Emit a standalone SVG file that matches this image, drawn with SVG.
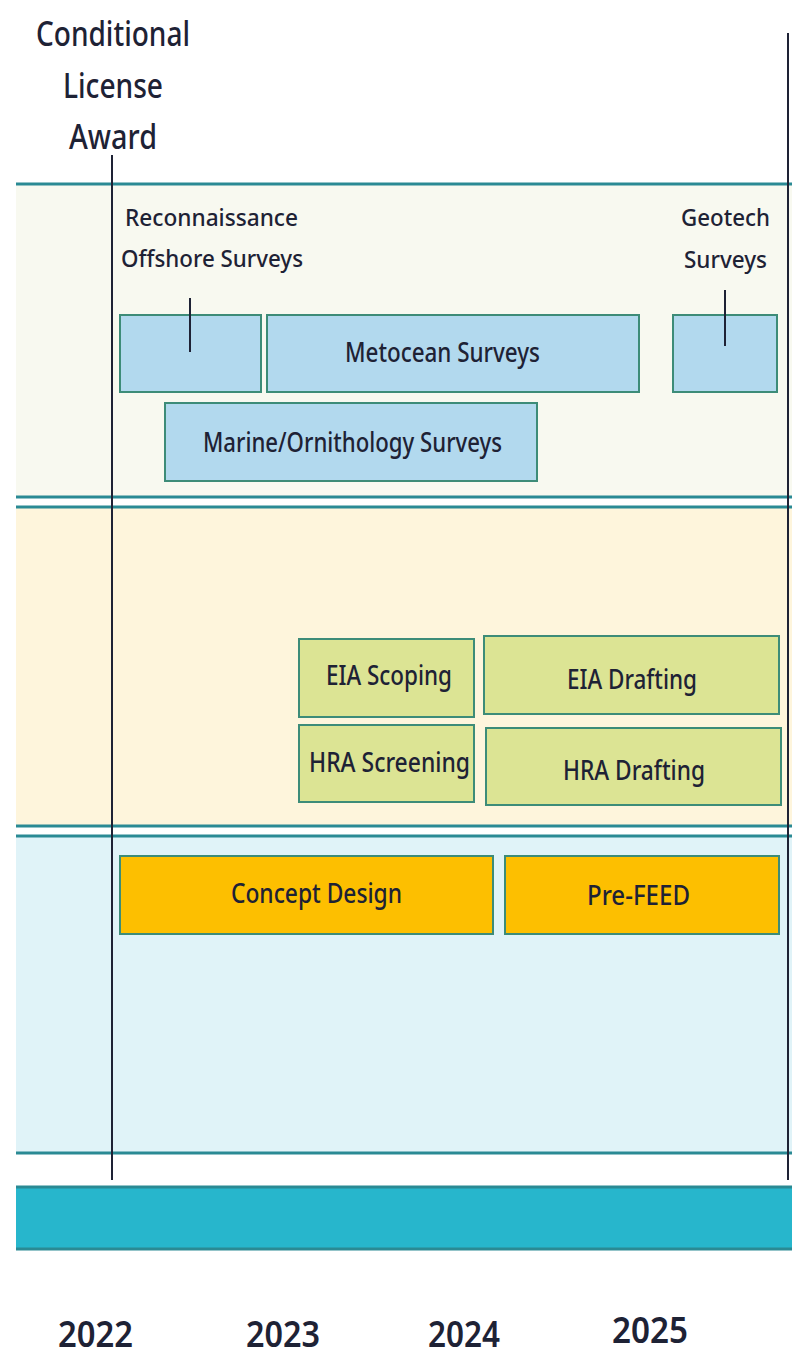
<svg xmlns="http://www.w3.org/2000/svg" width="792" height="1358" viewBox="0 0 792 1358">
<style>
text{font-family:"Noto Sans","Open Sans",sans-serif;fill:#1e2235;text-anchor:start;font-weight:500}
.b{stroke:#3d8c78;stroke-width:2}
.blue{fill:#b2d9ee}
.grn{fill:#dce494}
.org{fill:#fdbf00}
.bl{stroke:#2a8a94;stroke-width:3;fill:none}
.v{stroke:#1e2235;stroke-width:2;fill:none}
.t{font-size:27px}
.h{font-size:24px}
.big{font-size:35px}
.yr{font-size:36px;font-weight:600}
</style>
<rect width="792" height="1358" fill="#ffffff"/>
<g id="bands">
<rect x="16" y="184" width="776" height="313" fill="#f8f9f0"/>
<rect x="16" y="507" width="776" height="319" fill="#fef5dc"/>
<rect x="16" y="836" width="776" height="317" fill="#e0f3f8"/>
<rect x="16" y="1187" width="776" height="62" fill="#27b6cc"/>
<line class="bl" x1="16" y1="184" x2="792" y2="184"/>
<line class="bl" x1="16" y1="497" x2="792" y2="497"/>
<line class="bl" x1="16" y1="507" x2="792" y2="507"/>
<line class="bl" x1="16" y1="826" x2="792" y2="826"/>
<line class="bl" x1="16" y1="836" x2="792" y2="836"/>
<line class="bl" x1="16" y1="1153" x2="792" y2="1153"/>
<line class="bl" x1="16" y1="1187" x2="792" y2="1187"/>
<line class="bl" x1="16" y1="1249" x2="792" y2="1249"/>
</g>
<g id="award">
<text class="big" x="36" y="46" textLength="154" lengthAdjust="spacingAndGlyphs">Conditional</text>
<text class="big" x="63" y="98" textLength="100" lengthAdjust="spacingAndGlyphs">License</text>
<text class="big" x="69" y="149" textLength="88" lengthAdjust="spacingAndGlyphs">Award</text>
</g>
<g id="recon">
<text class="h" x="125" y="226" textLength="173" lengthAdjust="spacingAndGlyphs">Reconnaissance</text>
<text class="h" x="121" y="267" textLength="182" lengthAdjust="spacingAndGlyphs">Offshore Surveys</text>
<rect class="b blue" x="120" y="315" width="141" height="77"/>
</g>
<g id="metocean">
<rect class="b blue" x="267" y="315" width="372" height="77"/>
<text class="t" x="345" y="362" textLength="195" lengthAdjust="spacingAndGlyphs">Metocean Surveys</text>
</g>
<g id="geotech">
<text class="h" x="681" y="226" textLength="89" lengthAdjust="spacingAndGlyphs">Geotech</text>
<text class="h" x="684" y="268" textLength="83" lengthAdjust="spacingAndGlyphs">Surveys</text>
<rect class="b blue" x="673" y="315" width="104" height="77"/>
</g>
<g id="marine">
<rect class="b blue" x="165" y="403" width="372" height="78"/>
<text class="t" x="203" y="452" textLength="299" lengthAdjust="spacingAndGlyphs">Marine/Ornithology Surveys</text>
</g>
<g id="eia-scoping">
<rect class="b grn" x="299" y="639" width="175" height="78"/>
<text class="t" x="326" y="685" textLength="126" lengthAdjust="spacingAndGlyphs">EIA Scoping</text>
</g>
<g id="hra-screening">
<rect class="b grn" x="299" y="725" width="175" height="77"/>
<text class="t" x="309" y="772" textLength="161" lengthAdjust="spacingAndGlyphs">HRA Screening</text>
</g>
<g id="eia-drafting">
<rect class="b grn" x="484" y="636" width="295" height="78"/>
<text class="t" x="567" y="689" textLength="130" lengthAdjust="spacingAndGlyphs">EIA Drafting</text>
</g>
<g id="hra-drafting">
<rect class="b grn" x="486" y="728" width="295" height="77"/>
<text class="t" x="563" y="780" textLength="142" lengthAdjust="spacingAndGlyphs">HRA Drafting</text>
</g>
<g id="concept">
<rect class="b org" x="120" y="856" width="373" height="78"/>
<text class="t" x="231" y="903" textLength="171" lengthAdjust="spacingAndGlyphs">Concept Design</text>
</g>
<g id="prefeed">
<rect class="b org" x="505" y="856" width="274" height="78"/>
<text class="t" x="587" y="905" textLength="103" lengthAdjust="spacingAndGlyphs">Pre-FEED</text>
</g>
<g id="connectors">
<line class="v" x1="112" y1="155" x2="112" y2="1180"/>
<line class="v" x1="788" y1="33" x2="788" y2="1180"/>
<line class="v" x1="190" y1="298" x2="190" y2="352"/>
<line class="v" x1="725" y1="290" x2="725" y2="346"/>
</g>
<g id="years">
<text class="yr" x="58" y="1347" textLength="75" lengthAdjust="spacingAndGlyphs">2022</text>
<text class="yr" x="246" y="1347" textLength="74" lengthAdjust="spacingAndGlyphs">2023</text>
<text class="yr" x="428" y="1347" textLength="72" lengthAdjust="spacingAndGlyphs">2024</text>
<text class="yr" x="612" y="1343" textLength="76" lengthAdjust="spacingAndGlyphs">2025</text>
</g>
</svg>
